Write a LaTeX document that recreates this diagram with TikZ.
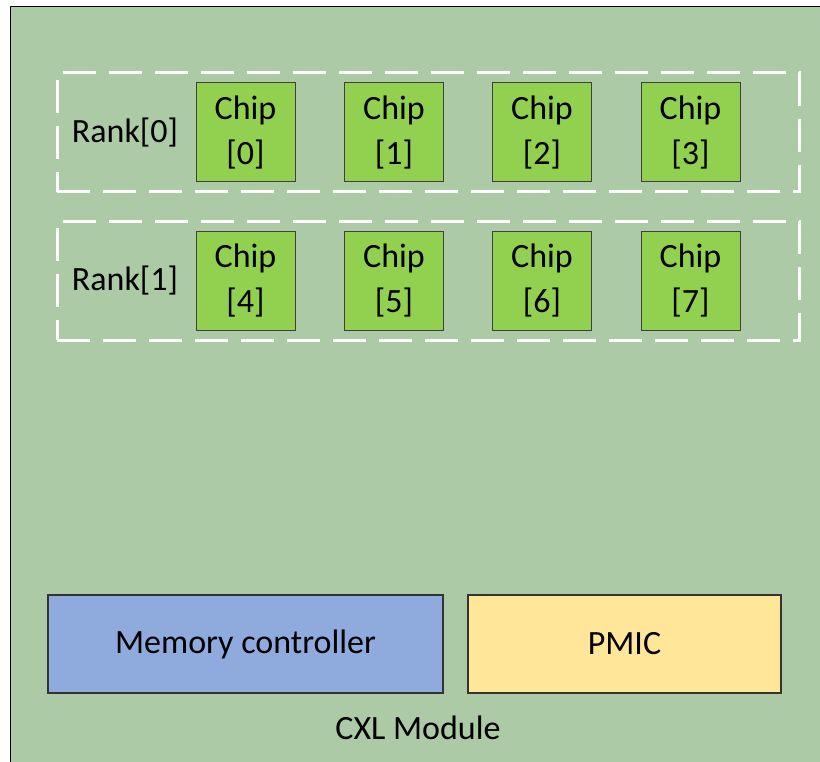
\documentclass[tikz,border=0pt]{standalone}
\usepackage{fontspec}
\setmainfont{Carlito}
\usepackage{tikz}
\definecolor{modgreen}{RGB}{172,202,166}
\definecolor{chipgreen}{RGB}{146,208,80}
\definecolor{ctrlblue}{RGB}{143,170,220}
\definecolor{pmicyellow}{RGB}{255,230,153}

\begin{document}
\begin{tikzpicture}[x=1pt,y=-1pt]
    \tikzset{chip/.style = {shape=rectangle,draw=black!75,line width=1pt,fill=chipgreen,minimum width=99pt,minimum height=99pt,align=center,font=\fontsize{34}{45}\selectfont,inner sep=0pt}}
    \tikzset{rank/.style = {shape=rectangle,draw=white,line width=3pt,dash pattern=on 33pt off 13pt,minimum width=742pt,minimum height=119pt,inner sep=0pt}}
    \tikzset{block/.style = {shape=rectangle,draw=black!80,line width=1.5pt,minimum height=98pt,font=\fontsize{34}{40}\selectfont,inner sep=0pt}}
    \tikzset{label/.style = {font=\fontsize{34}{40}\selectfont,inner sep=0pt}}
    \useasboundingbox (0,0) rectangle (820,762);
    % module
    \fill[white] (0,0) rectangle (820,762);
    \draw[black,line width=1pt,fill=modgreen] (10,7) rectangle (830,772);
    % ranks
    \node[rank] (rank0) at (428,132.5) {};
    \node[rank] (rank1) at (428,281) {};
    \node[label] (r0) at (125,133) {Rank[0]};
    \node[label] (r1) at (125,281) {Rank[1]};
%%%%%%%%%%%%%%%%%
    \node[chip] (c0) at (245.5,132.5) {Chip\\{[0]}};
    \node[chip] (c1) at (394,132.5) {Chip\\{[1]}};
    \node[chip] (c2) at (542,132.5) {Chip\\{[2]}};
    \node[chip] (c3) at (690.5,132.5) {Chip\\{[3]}};
%%%%%%%%%%%%%%%%%
    \node[chip] (c4) at (245.5,281) {Chip\\{[4]}};
    \node[chip] (c5) at (394,281) {Chip\\{[5]}};
    \node[chip] (c6) at (542,281) {Chip\\{[6]}};
    \node[chip] (c7) at (690.5,281) {Chip\\{[7]}};
%%%%%%%%%%%%%%%%%
    \node[block,fill=ctrlblue,minimum width=395pt] (mc) at (245.5,644) {Memory controller};
    \node[block,fill=pmicyellow,minimum width=313pt] (pmic) at (624.5,644) {PMIC};
    \node[label] (cxl) at (418,728) {CXL Module};

\end{tikzpicture}
\end{document}
